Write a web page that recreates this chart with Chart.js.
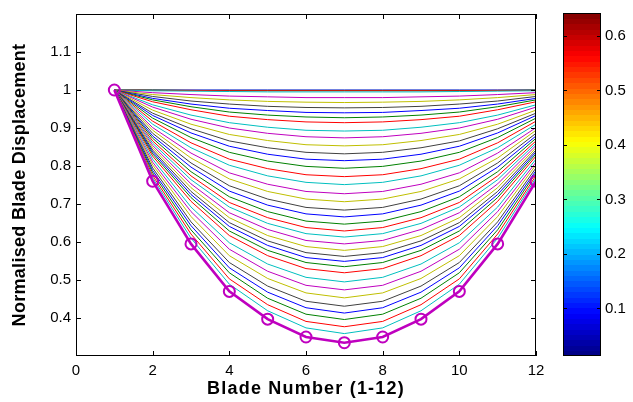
<!DOCTYPE html>
<html><head><meta charset="utf-8">
<script src="https://cdn.jsdelivr.net/npm/chart.js@4.4.1/dist/chart.umd.min.js"></script>
<style>html,body{margin:0;padding:0;background:#fff;}#wrap{position:relative;width:633px;height:402px;}canvas{position:absolute;left:0;top:0;}</style>
</head><body><div id="wrap"><canvas id="main" width="633" height="402"></canvas><canvas id="cb" width="633" height="402"></canvas></div>
<script>
const blades = [1,2,3,4,5,6,7,8,9,10,11,12];
const c01 = [1,1,1,1,1,1,1,1,1,1,1,1];
const c02 = [1,1.000,0.999,0.999,0.999,0.999,0.999,0.999,0.999,0.999,0.999,1.000];
const c03 = [1,0.999,0.999,0.998,0.998,0.998,0.998,0.998,0.998,0.998,0.999,0.999];
const c04 = [1,0.998,0.997,0.996,0.995,0.995,0.995,0.995,0.995,0.996,0.997,0.998];
const c05 = [1,0.993,0.988,0.984,0.982,0.980,0.980,0.980,0.982,0.984,0.988,0.993];
const c06 = [1,0.988,0.980,0.974,0.970,0.968,0.967,0.968,0.970,0.974,0.980,0.988];
const c07 = [1,0.983,0.971,0.963,0.957,0.954,0.953,0.954,0.957,0.963,0.971,0.983];
const c08 = [1,0.978,0.963,0.952,0.946,0.941,0.940,0.941,0.946,0.952,0.963,0.978];
const c09 = [1,0.974,0.956,0.942,0.934,0.929,0.927,0.929,0.934,0.942,0.956,0.974];
const c10 = [1,0.969,0.948,0.931,0.922,0.916,0.914,0.916,0.922,0.931,0.948,0.969];
const c11 = [1,0.961,0.934,0.914,0.902,0.894,0.892,0.894,0.902,0.914,0.934,0.961];
const c12 = [1,0.955,0.923,0.900,0.886,0.877,0.874,0.877,0.886,0.900,0.923,0.955];
const c13 = [1,0.947,0.910,0.883,0.867,0.856,0.853,0.856,0.867,0.883,0.910,0.947];
const c14 = [1,0.939,0.898,0.866,0.848,0.836,0.832,0.836,0.848,0.866,0.898,0.939];
const c15 = [1,0.933,0.887,0.852,0.831,0.818,0.814,0.818,0.831,0.852,0.887,0.933];
const c16 = [1,0.926,0.875,0.836,0.813,0.799,0.794,0.799,0.813,0.836,0.875,0.926];
const c17 = [1,0.918,0.861,0.818,0.793,0.777,0.772,0.777,0.793,0.818,0.861,0.918];
const c18 = [1,0.910,0.848,0.802,0.774,0.757,0.751,0.757,0.774,0.802,0.848,0.910];
const c19 = [1,0.901,0.834,0.782,0.752,0.733,0.727,0.733,0.752,0.782,0.834,0.901];
const c20 = [1,0.894,0.821,0.766,0.733,0.713,0.706,0.713,0.733,0.766,0.821,0.894];
const c21 = [1,0.886,0.808,0.748,0.713,0.691,0.684,0.691,0.713,0.748,0.808,0.886];
const c22 = [1,0.879,0.797,0.734,0.697,0.674,0.666,0.674,0.697,0.734,0.797,0.879];
const c23 = [1,0.873,0.785,0.719,0.680,0.655,0.647,0.655,0.680,0.719,0.785,0.873];
const c24 = [1,0.866,0.774,0.704,0.664,0.638,0.629,0.638,0.664,0.704,0.774,0.866];
const c25 = [1,0.860,0.764,0.692,0.649,0.622,0.613,0.622,0.649,0.692,0.764,0.860];
const c26 = [1,0.854,0.753,0.677,0.633,0.604,0.595,0.604,0.633,0.677,0.753,0.854];
const c27 = [1,0.848,0.743,0.664,0.617,0.588,0.578,0.588,0.617,0.664,0.743,0.848];
const c28 = [1,0.842,0.733,0.651,0.603,0.572,0.562,0.572,0.603,0.651,0.733,0.842];
const c29 = [1,0.837,0.725,0.641,0.591,0.559,0.549,0.559,0.591,0.641,0.725,0.837];
const c30 = [1,0.832,0.717,0.629,0.578,0.546,0.535,0.546,0.578,0.629,0.717,0.832];
const c31 = [1,0.826,0.707,0.617,0.564,0.530,0.519,0.530,0.564,0.617,0.707,0.826];
const c32 = [1,0.818,0.692,0.598,0.542,0.507,0.495,0.507,0.542,0.598,0.692,0.818];
const c33 = [1,0.810,0.680,0.581,0.523,0.486,0.474,0.486,0.523,0.581,0.680,0.810];
const c34 = [1,0.803,0.667,0.564,0.504,0.466,0.453,0.466,0.504,0.564,0.667,0.803];
const c35 = [1,0.795,0.653,0.546,0.484,0.444,0.431,0.444,0.484,0.546,0.653,0.795];
const c36 = [1,0.788,0.643,0.532,0.468,0.427,0.413,0.427,0.468,0.532,0.643,0.788];
const c37 = [1,0.782,0.632,0.519,0.452,0.410,0.396,0.410,0.452,0.519,0.632,0.782];
const c38 = [1,0.775,0.621,0.503,0.435,0.391,0.377,0.391,0.435,0.503,0.621,0.775];
const c39 = [1,0.769,0.610,0.489,0.419,0.374,0.359,0.374,0.419,0.489,0.610,0.769];
const c40 = [1,0.760,0.595,0.470,0.397,0.350,0.335,0.350,0.397,0.470,0.595,0.760];
const xTicks = [0,2,4,6,8,10,12];
const yTicks = [0.4,0.5,0.6,0.7,0.8,0.9,1.0,1.1];
const cbTicks = [0.1,0.2,0.3,0.4,0.5,0.6];
const cbRange = [0.0127, 0.642];
const xTitle = 'Blade Number (1-12)';
const yTitle = 'Normalised Blade Displacement';

const curves = [c01,c02,c03,c04,c05,c06,c07,c08,c09,c10,c11,c12,c13,c14,c15,c16,c17,c18,c19,c20,
                c21,c22,c23,c24,c25,c26,c27,c28,c29,c30,c31,c32,c33,c34,c35,c36,c37,c38,c39,c40];
const lineColors = ['#0000FF','#008000','#FF0000','#00BFBF','#BF00BF','#BFBF00','#404040'];
const FONT = '"Liberation Sans", Arial, sans-serif';
const N = curves.length;

const datasets = curves.map((c, i) => {
  const last = i === N - 1;
  const col = lineColors[i % 7];
  return {
    data: blades.map((b, j) => ({x: b, y: c[j]})),
    borderColor: col,
    borderWidth: last ? 2.6 : 1,
    pointRadius: last ? 5.5 : 0,
    pointBorderWidth: 2,
    pointBorderColor: col,
    pointBackgroundColor: 'rgba(0,0,0,0)',
    showLine: true,
    tension: 0,
    fill: false,
    order: N - i
  };
});

const framePlugin = {
  id: 'frame',
  afterDatasetsDraw(chart) {
    const {ctx, chartArea: a, scales: {x, y}} = chart;
    ctx.save();
    ctx.strokeStyle = '#000';
    ctx.lineWidth = 1;
    ctx.strokeRect(a.left + 0.5, a.top + 0.5, a.right - a.left - 1, a.bottom - a.top - 1);
    const L = 5;
    ctx.beginPath();
    xTicks.forEach(v => {
      const px = Math.round(x.getPixelForValue(v)) + 0.5;
      ctx.moveTo(px, a.bottom); ctx.lineTo(px, a.bottom - L);
      ctx.moveTo(px, a.top); ctx.lineTo(px, a.top + L);
    });
    yTicks.forEach(v => {
      const py = Math.round(y.getPixelForValue(v)) + 0.5;
      ctx.moveTo(a.left, py); ctx.lineTo(a.left + L, py);
      ctx.moveTo(a.right, py); ctx.lineTo(a.right - L, py);
    });
    ctx.stroke();
    ctx.restore();
  },
  afterDraw(chart) {
    const {ctx, chartArea: a} = chart;
    ctx.save();
    ctx.fillStyle = '#000';
    ctx.font = 'bold 18px ' + FONT;
    try { ctx.letterSpacing = '1.2px'; } catch (e) {}
    ctx.textAlign = 'center';
    ctx.textBaseline = 'alphabetic';
    ctx.fillText(xTitle, (a.left + a.right) / 2, 394);
    try { ctx.letterSpacing = '0.3px'; } catch (e) {}
    ctx.translate(25, (a.top + a.bottom) / 2);
    ctx.rotate(-Math.PI / 2);
    ctx.fillText(yTitle, 0, 0);
    ctx.restore();
  }
};

new Chart(document.getElementById('main'), {
  type: 'scatter',
  data: {datasets},
  options: {
    responsive: false,
    animation: false,
    events: [],
    layout: {padding: {left: 0, top: 10, right: 97, bottom: 0}},
    plugins: {legend: {display: false}, tooltip: {enabled: false}},
    scales: {
      x: {
        type: 'linear', min: 0, max: 12,
        afterFit(s) { s.height = 46; },
        afterBuildTicks(s) { s.ticks = xTicks.map(v => ({value: v})); },
        ticks: {color: '#000', font: {family: FONT, size: 15}, padding: 6, maxRotation: 0, autoSkip: false,
                callback: v => String(v)},
        grid: {display: false, drawTicks: false},
        border: {display: false}
      },
      y: {
        type: 'linear', min: 0.3, max: 1.2,
        afterFit(s) { s.width = 76; },
        afterBuildTicks(s) { s.ticks = yTicks.map(v => ({value: v})); },
        ticks: {color: '#000', font: {family: FONT, size: 15}, padding: 5, autoSkip: false,
                callback: v => { const r = Math.round(v * 10) / 10; return r === 1 ? '1' : r.toFixed(1); }},
        grid: {display: false, drawTicks: false},
        border: {display: false}
      }
    }
  },
  plugins: [framePlugin]
});

function jet(t) {
  const cl = v => Math.max(0, Math.min(1, v));
  const r = cl(1.5 - Math.abs(4 * t - 3));
  const g = cl(1.5 - Math.abs(4 * t - 2));
  const b = cl(1.5 - Math.abs(4 * t - 1));
  return 'rgb(' + Math.round(r * 255) + ',' + Math.round(g * 255) + ',' + Math.round(b * 255) + ')';
}

const cbPlugin = {
  id: 'cbar',
  beforeDatasetsDraw(chart) {
    const {ctx, chartArea: a, scales: {y}} = chart;
    const n = 64;
    ctx.save();
    for (let i = 0; i < n; i++) {
      const v0 = cbRange[0] + (cbRange[1] - cbRange[0]) * i / n;
      const v1 = cbRange[0] + (cbRange[1] - cbRange[0]) * (i + 1) / n;
      const p0 = y.getPixelForValue(v0), p1 = y.getPixelForValue(v1);
      ctx.fillStyle = jet((i + 0.5) / n);
      ctx.fillRect(a.left, Math.floor(p1), a.right - a.left, Math.ceil(p0) - Math.floor(p1));
    }
    ctx.strokeStyle = '#000';
    ctx.lineWidth = 1;
    ctx.strokeRect(a.left + 0.5, a.top + 0.5, a.right - a.left - 1, a.bottom - a.top - 1);
    ctx.beginPath();
    cbTicks.forEach(v => {
      const py = Math.round(y.getPixelForValue(v)) + 0.5;
      ctx.moveTo(a.left, py); ctx.lineTo(a.left + 4, py);
      ctx.moveTo(a.right, py); ctx.lineTo(a.right - 4, py);
    });
    ctx.stroke();
    ctx.restore();
  }
};

new Chart(document.getElementById('cb'), {
  type: 'scatter',
  data: {datasets: []},
  options: {
    responsive: false,
    animation: false,
    events: [],
    layout: {padding: {left: 563, top: 10, right: 0, bottom: 46}},
    plugins: {legend: {display: false}, tooltip: {enabled: false}},
    scales: {
      x: {display: false, min: 0, max: 1},
      y: {
        position: 'right', min: cbRange[0], max: cbRange[1],
        afterFit(s) { s.width = 32; },
        afterBuildTicks(s) { s.ticks = cbTicks.map(v => ({value: v})); },
        ticks: {color: '#000', font: {family: FONT, size: 15}, padding: 4, autoSkip: false,
                callback: v => (Math.round(v * 10) / 10).toFixed(1)},
        grid: {display: false, drawTicks: false},
        border: {display: false}
      }
    }
  },
  plugins: [cbPlugin]
});
</script>
</body></html>
